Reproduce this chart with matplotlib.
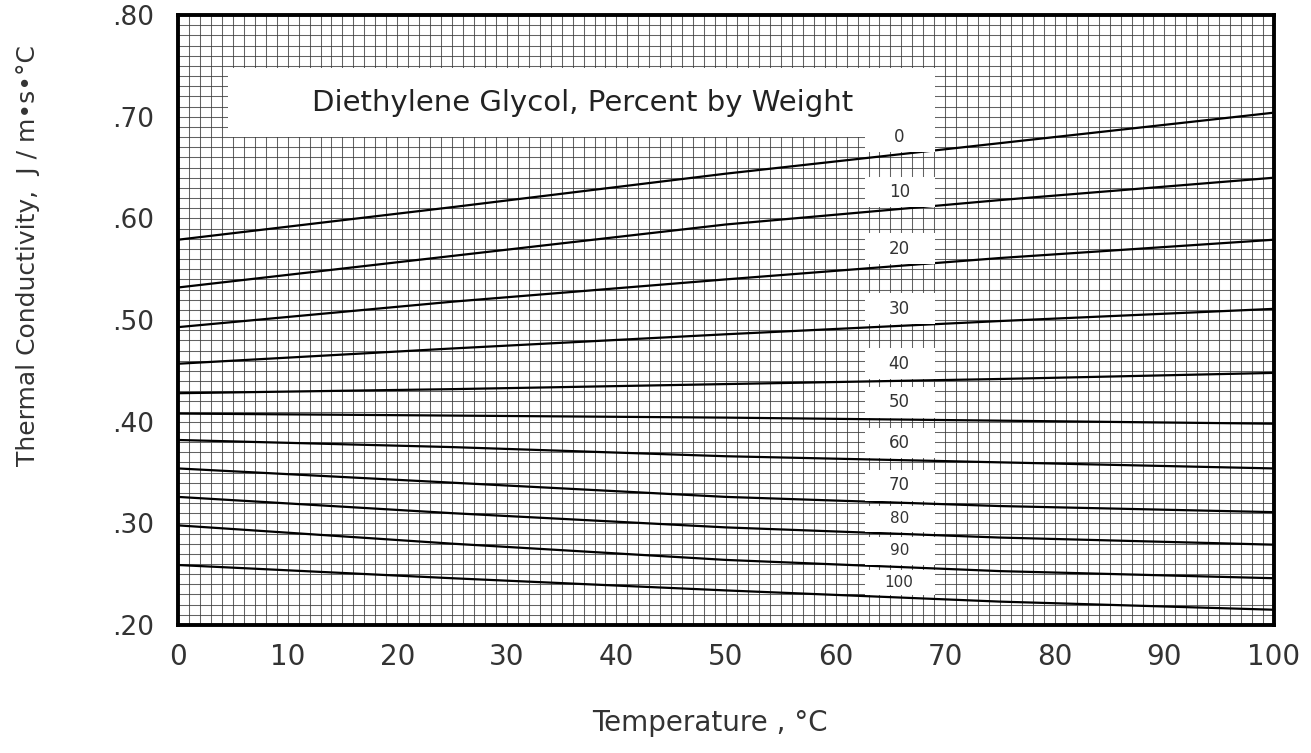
import numpy as np
import matplotlib
matplotlib.use("Agg")
import matplotlib.pyplot as plt
from matplotlib.patches import Rectangle

# ---- data ----
temps = [0, 25, 50, 75, 100]
percents = [0, 10, 20, 30, 40, 50, 60, 70, 80, 90, 100]
k_0 = [0.579, 0.611, 0.644, 0.674, 0.704]
k_10 = [0.532, 0.563, 0.594, 0.618, 0.640]
k_20 = [0.493, 0.518, 0.540, 0.561, 0.579]
k_30 = [0.457, 0.472, 0.486, 0.499, 0.511]
k_40 = [0.428, 0.432, 0.437, 0.442, 0.448]
k_50 = [0.408, 0.406, 0.404, 0.401, 0.398]
k_60 = [0.382, 0.375, 0.366, 0.360, 0.354]
k_70 = [0.354, 0.340, 0.326, 0.317, 0.311]
k_80 = [0.326, 0.310, 0.296, 0.286, 0.279]
k_90 = [0.298, 0.280, 0.264, 0.253, 0.246]
k_100 = [0.259, 0.246, 0.234, 0.223, 0.215]
series = [k_0, k_10, k_20, k_30, k_40, k_50, k_60, k_70, k_80, k_90, k_100]

x_ticks = [0, 10, 20, 30, 40, 50, 60, 70, 80, 90, 100]
y_ticks = [0.20, 0.30, 0.40, 0.50, 0.60, 0.70, 0.80]
y_ticklabels = [".20", ".30", ".40", ".50", ".60", ".70", ".80"]
title_text = "Diethylene Glycol, Percent by Weight"
label_temp = 65.8

fig = plt.figure(figsize=(13.11, 7.53), dpi=100)
ax = fig.add_axes([0.1358, 0.170, 0.836, 0.810])
ax.set_xlim(0, 100)
ax.set_ylim(0.20, 0.80)

# graph-paper grid (uniform)
ax.set_xticks(np.arange(0, 101, 1), minor=True)
ax.set_yticks(np.arange(0.20, 0.801, 0.01), minor=True)
ax.grid(which="minor", color="#3c3c3c", linewidth=0.75, alpha=0.8)
ax.grid(which="major", color="#3c3c3c", linewidth=0.75, alpha=0.8)
ax.set_axisbelow(True)

for vals in series:
    ax.plot(temps, vals, color="black", linewidth=1.6, zorder=3)

# label boxes & labels
vals_at = [np.interp(label_temp, temps, s) for s in series]
for i, (p, v) in enumerate(zip(percents, vals_at)):
    above = vals_at[i - 1] if i > 0 else 0.80
    h = min(0.030, above - v - 0.005)
    ax.add_patch(Rectangle((62.7, v + 0.002), 6.4, h, facecolor="white",
                           edgecolor="none", zorder=4))
    ax.text(label_temp, v + 0.002 + h / 2, str(p), ha="center", va="center",
            fontsize=12 if p < 80 else 11, color="#333333", zorder=5)

# title box
ax.add_patch(Rectangle((4.6, 0.6805), 64.5, 0.0675, facecolor="white",
                       edgecolor="none", zorder=4))
ax.text(36.9, 0.7135, title_text, ha="center", va="center", fontsize=21,
        color="#222222", zorder=5)

ax.set_xticks(x_ticks)
ax.set_xticklabels([str(t) for t in x_ticks])
ax.set_yticks(y_ticks)
ax.set_yticklabels(y_ticklabels)
ax.tick_params(axis="both", which="both", length=0)
ax.tick_params(axis="x", pad=13, labelsize=20, labelcolor="#333333")
ax.tick_params(axis="y", pad=17, labelsize=19, labelcolor="#333333")

for s in ax.spines.values():
    s.set_linewidth(2.8)
    s.set_color("black")

ax.set_xlabel("Temperature , °C", fontsize=20, color="#333333")
ax.xaxis.set_label_coords(0.485, -0.138)
ax.set_ylabel("Thermal Conductivity,  J / m•s•°C", fontsize=18, color="#333333")
ax.yaxis.set_label_coords(-0.126, 0.605)

fig.savefig("out.png", dpi=100, facecolor="white")
